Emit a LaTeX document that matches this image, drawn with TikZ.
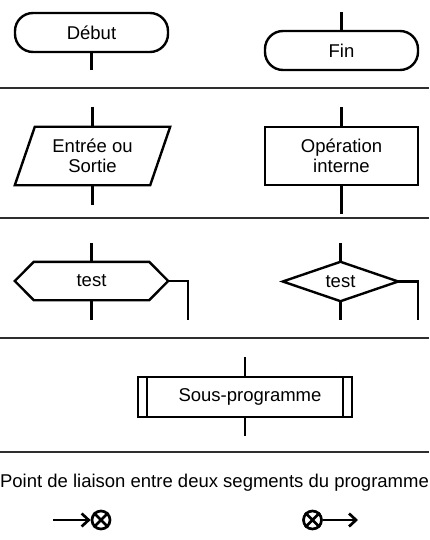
\documentclass[tikz,border=0pt]{standalone}
\usepackage{fontspec}
\setmainfont{Liberation Sans}
\usetikzlibrary{arrows.meta,calc}
\begin{document}
\begin{tikzpicture}[x=1pt,y=-1pt,
  every node/.style={font=\fontsize{18.5}{20.5}\selectfont, inner sep=0pt, align=center},
  shp/.style={line width=2.4pt, line join=miter},
  term/.style={shp, draw, rounded corners=18pt, minimum width=153pt, minimum height=39pt},
  box/.style={shp, draw, minimum width=153pt, minimum height=58pt},
  wire/.style={line width=2.4pt},
  sep/.style={line width=1.8pt, draw=black!82},
  conn/.style={circle, draw, line width=2.7pt, minimum size=18pt, inner sep=0pt},
  arr/.style={line width=2.7pt, -{Straight Barb[length=7pt,width=13pt]}}
]
\useasboundingbox (0,0) rectangle (429,540);

% separators
\coordinate (s1l) at (0,88);  \coordinate (s1r) at (429,88);
\coordinate (s2l) at (0,218); \coordinate (s2r) at (429,218);
\coordinate (s3l) at (0,338); \coordinate (s3r) at (429,338);
\coordinate (s4l) at (0,452); \coordinate (s4r) at (429,452);
\draw[sep] (s1l) -- (s1r);
\draw[sep] (s2l) -- (s2r);
\draw[sep] (s3l) -- (s3r);
\draw[sep] (s4l) -- (s4r);

% Section 1: terminals
\node[term] (debut) at (91.5,32.5) {Début};
\coordinate (debutend) at (91.5,70);
\draw[wire] (debut.south) -- (debutend);

\node[term] (fin) at (341.5,50.5) {Fin};
\coordinate (finstart) at (341.5,12);
\draw[wire] (finstart) -- (fin.north);

% Section 2: I/O and operation
\node[minimum width=155pt, minimum height=58pt] (io) at (92.5,156) {Entrée ou\\Sortie};
\draw[shp] ([xshift=20pt]io.north west) -- (io.north east) -- ([xshift=-20pt]io.south east) -- (io.south west) -- cycle;
\coordinate (iotop) at (92.5,107);
\coordinate (iobot) at (92.5,205);
\draw[wire] (iotop) -- (io.north);
\draw[wire] (io.south) -- (iobot);

\node[box] (op) at (341.5,156) {Opération\\interne};
\coordinate (optop) at (341.5,107);
\coordinate (opbot) at (341.5,214);
\draw[wire] (optop) -- (op.north);
\draw[wire] (op.south) -- (opbot);

% Section 3: tests
\node[minimum width=153pt, minimum height=38pt] (hex) at (91.5,281) {test};
\draw[shp] (hex.west) -- ([xshift=19pt]hex.north west) -- ([xshift=-19pt]hex.north east) -- (hex.east) -- ([xshift=-19pt]hex.south east) -- ([xshift=19pt]hex.south west) -- cycle;
\coordinate (hextop) at (91.5,243);
\coordinate (hexbot) at (91.5,320);
\coordinate (hexc) at (188,281);
\coordinate (hexd) at (188,320);
\draw[wire] (hextop) -- (hex.north);
\draw[wire] (hex.south) -- (hexbot);
\draw[wire] (hex.east) -- (hexc) -- (hexd);

\node[minimum width=115pt, minimum height=39pt] (dia) at (340.5,281.5) {test};
\draw[shp] (dia.west) -- (dia.north) -- (dia.east) -- (dia.south) -- cycle;
\coordinate (diatop) at (340.5,243);
\coordinate (diabot) at (340.5,320);
\coordinate (diac) at (418,281.5);
\coordinate (diad) at (418,320);
\draw[wire] (diatop) -- (dia.north);
\draw[wire] (dia.south) -- (diabot);
\draw[wire] (dia.east) -- (diac) -- (diad);

% Section 4: subprogram
\node[shp, draw, minimum width=214pt, minimum height=40pt] (sub) at (245,397) {\hspace*{10pt}Sous-programme};
\draw[shp] ([xshift=10pt]sub.north west) -- ([xshift=10pt]sub.south west);
\draw[shp] ([xshift=-10pt]sub.north east) -- ([xshift=-10pt]sub.south east);
\coordinate (subtop) at (245,357);
\coordinate (subbot) at (245,436);
\draw[wire] (subtop) -- (sub.north);
\draw[wire] (sub.south) -- (subbot);

% Section 5: connectors
\node (liaison) at (214.5,483) {Point de liaison entre deux segments du programme};

\node[conn] (c1) at (101,520) {};
\draw[line width=2.7pt] (c1.45) -- (c1.225) (c1.135) -- (c1.315);
\coordinate (a1) at (53,520);
\draw[arr] (a1) -- (c1.west);

\node[conn] (c2) at (312.5,520) {};
\draw[line width=2.7pt] (c2.45) -- (c2.225) (c2.135) -- (c2.315);
\coordinate (a2) at (358,520);
\draw[arr] (c2.east) -- (a2);
\end{tikzpicture}
\end{document}
